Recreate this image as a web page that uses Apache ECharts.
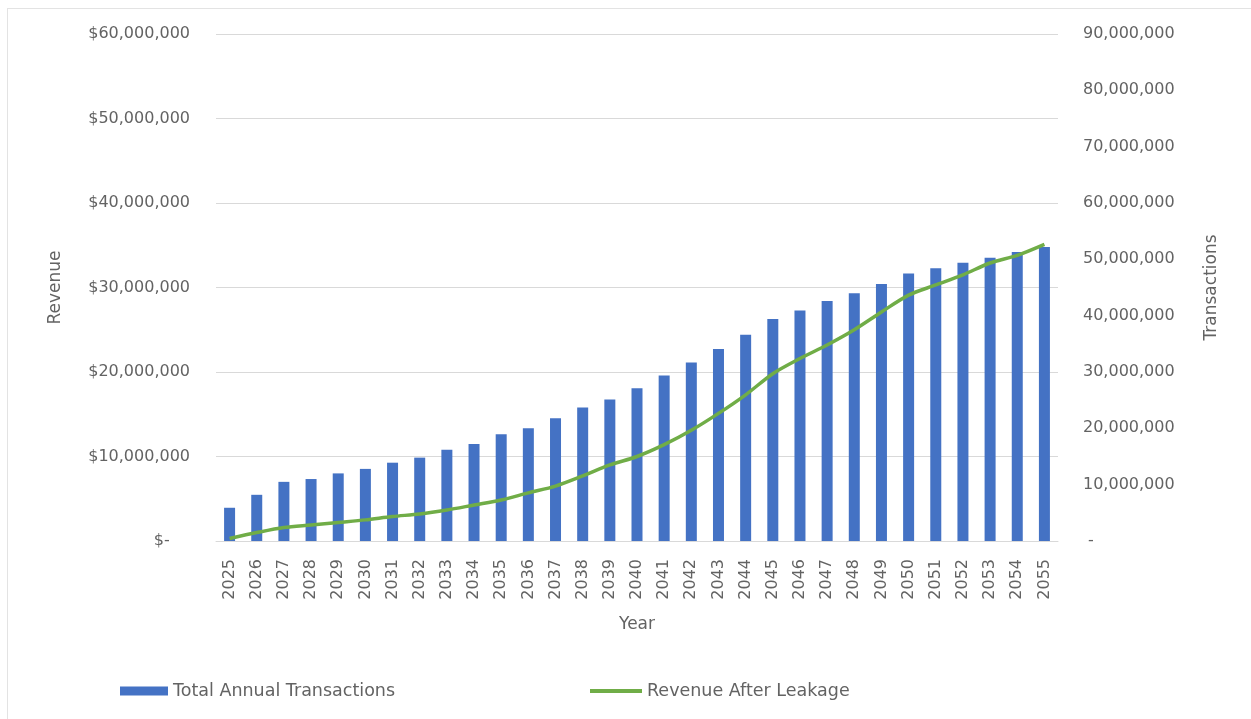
<!DOCTYPE html>
<html>
<head>
<meta charset="utf-8">
<script src="https://cdn.jsdelivr.net/npm/echarts@6/dist/echarts.min.js"></script>
<style>
  html, body { margin: 0; padding: 0; background: #ffffff; }
  #frame { position: absolute; left: 7px; top: 8px; width: 1260px; height: 720px; border-left: 1px solid #e3e3e3; border-top: 1px solid #e3e3e3; }
  #chart { position: absolute; left: 0; top: 0; width: 1251px; height: 719px; }
</style>
</head>
<body>
<div id="frame"></div>
<div id="chart"></div>
<script>
// Years on the category axis
const years = ['2025','2026','2027','2028','2029','2030','2031','2032','2033','2034','2035','2036','2037','2038','2039','2040',
               '2041','2042','2043','2044','2045','2046','2047','2048','2049','2050','2051','2052','2053','2054','2055'];

// Total annual transactions (right axis)
const transactions = [5900000, 8200000, 10500000, 11000000, 12000000, 12800000, 13900000, 14800000, 16200000, 17200000,
                      18950000, 20000000, 21800000, 23700000, 25100000, 27100000, 29400000, 31700000, 34100000, 36600000,
                      39400000, 40900000, 42600000, 44000000, 45600000, 47500000, 48400000, 49400000, 50300000, 51300000, 52200000];

// Revenue after leakage (left axis, dollars)
const revenue = [300000, 1000000, 1600000, 1900000, 2200000, 2500000, 2900000, 3200000, 3670000, 4260000,
                 4850000, 5700000, 6500000, 7700000, 9000000, 10000000, 11400000, 13100000, 15100000, 17300000,
                 19800000, 21600000, 23200000, 25000000, 27100000, 29100000, 30300000, 31500000, 32900000, 33800000, 35100000];

const seriesNames = ['Total Annual Transactions', 'Revenue After Leakage'];

const textColor = '#636363';
const gridColor = '#d9d9d9';
const fontFamily = 'DejaVu Sans';

function commas(v) { return v.toLocaleString('en-US'); }

const chart = echarts.init(document.getElementById('chart'), null, { renderer: 'canvas' });

chart.setOption({
  backgroundColor: 'transparent',
  animation: false,
  textStyle: { fontFamily: fontFamily, color: textColor },
  grid: { left: 216, right: 193, top: 34, bottom: 178, containLabel: false },
  legend: [
    {
      data: [{ name: seriesNames[0], icon: 'rect' }],
      left: 115, top: 677,
      itemWidth: 48, itemHeight: 9, itemGap: 5,
      textStyle: { fontFamily: fontFamily, fontSize: 17.5, color: textColor }
    },
    {
      data: [{ name: seriesNames[1], icon: 'rect' }],
      left: 585, top: 677,
      itemWidth: 52, itemHeight: 4, itemGap: 5,
      textStyle: { fontFamily: fontFamily, fontSize: 17.5, color: textColor }
    }
  ],
  xAxis: {
    type: 'category',
    data: years,
    name: 'Year',
    nameLocation: 'middle',
    nameGap: 75,
    nameTextStyle: { fontFamily: fontFamily, fontSize: 17, color: textColor },
    axisLine: { lineStyle: { color: gridColor, width: 1 } },
    axisTick: { show: false },
    axisLabel: { rotate: 90, fontSize: 16, color: textColor, margin: 18, interval: 0 }
  },
  yAxis: [
    {
      type: 'value',
      min: 0, max: 60000000, interval: 10000000,
      name: 'Revenue',
      nameLocation: 'middle',
      nameGap: 152,
      nameTextStyle: { fontFamily: fontFamily, fontSize: 17, color: textColor },
      axisLine: { show: false },
      axisTick: { show: false },
      splitLine: { lineStyle: { color: gridColor, width: 1 } },
      axisLabel: {
        fontSize: 16, color: textColor, margin: 26,
        formatter: v => v === 0 ? '$-    ' : '$' + commas(v)
      }
    },
    {
      type: 'value',
      min: 0, max: 90000000, interval: 10000000,
      position: 'right',
      name: 'Transactions',
      nameLocation: 'middle',
      nameGap: 145,
      nameTextStyle: { fontFamily: fontFamily, fontSize: 17, color: textColor },
      axisLine: { show: false },
      axisTick: { show: false },
      splitLine: { show: false },
      axisLabel: {
        fontSize: 16, color: textColor, margin: 25,
        formatter: v => v === 0 ? ' -' : commas(v)
      }
    }
  ],
  series: [
    {
      name: seriesNames[0],
      type: 'bar',
      yAxisIndex: 1,
      data: transactions,
      barWidth: 11,
      itemStyle: { color: '#4472c4' }
    },
    {
      name: seriesNames[1],
      type: 'line',
      yAxisIndex: 0,
      data: revenue,
      smooth: 0.3,
      showSymbol: false,
      symbol: 'none',
      lineStyle: { color: '#70ad47', width: 3.5 },
      itemStyle: { color: '#70ad47' }
    }
  ]
});
</script>
</body>
</html>
